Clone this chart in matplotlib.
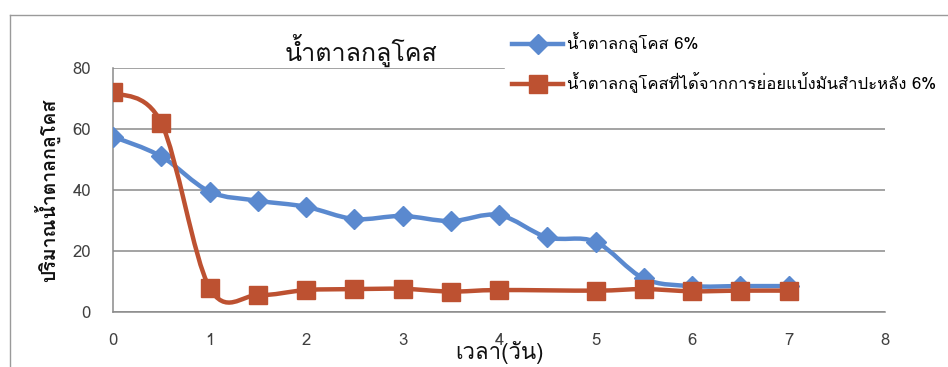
import matplotlib
matplotlib.use('Agg')
import matplotlib.pyplot as plt
from matplotlib import font_manager, ft2font
from matplotlib.path import Path
from matplotlib.patches import PathPatch
from matplotlib.lines import Line2D

# glucose over time (days)
days_glucose = [0, 0.5, 1, 1.5, 2, 2.5, 3, 3.5, 4, 4.5, 5, 5.5, 6, 6.5, 7]
glucose = [57.5, 51, 39.5, 36.5, 34.5, 30.5, 31.5, 29.8, 31.8, 24.5, 23, 11, 8.5, 8.5, 8.5]
days_cassava = [0, 0.5, 1, 1.5, 2, 2.5, 3, 3.5, 4, 5, 5.5, 6, 6.5, 7]
cassava = [72, 62, 8, 5.5, 7.2, 7.5, 7.6, 6.7, 7.2, 7, 7.5, 6.8, 7, 7]

title = 'น้ำตาลกลูโคส'
ylabel = 'ปริมาณน้ำตาลกลูโคส'
xlabel = 'เวลา(วัน)'
names = ['น้ำตาลกลูโคส 6%', 'น้ำตาลกลูโคสที่ได้จากการย่อยแป้งมันสำปะหลัง 6%']
xticks = [0, 1, 2, 3, 4, 5, 6, 7, 8]
yticks = [0, 20, 40, 60, 80]

blue = '#5A89CF'
red = '#BD5131'


def find_thai_font():
    for f in font_manager.fontManager.ttflist:
        try:
            cmap = ft2font.FT2Font(f.fname).get_charmap()
        except Exception:
            continue
        if 0x0E19 in cmap and 0x0E33 in cmap:
            return f.name
    return None


thai = find_thai_font()
fams = ([thai] if thai else []) + ['DejaVu Sans']
plt.rcParams['font.family'] = fams


def smooth_path(xs, ys):
    # bezier segments with catmull-rom style control points
    pts = list(zip(xs, ys))
    n = len(pts)
    verts = [pts[0]]
    codes = [Path.MOVETO]
    for i in range(n - 1):
        p0 = pts[i - 1] if i > 0 else pts[i]
        p1 = pts[i]
        p2 = pts[i + 1]
        p3 = pts[i + 2] if i + 2 < n else pts[i + 1]
        c1 = (p1[0] + (p2[0] - p0[0]) / 6, p1[1] + (p2[1] - p0[1]) / 6)
        c2 = (p2[0] - (p3[0] - p1[0]) / 6, p2[1] - (p3[1] - p1[1]) / 6)
        verts += [c1, c2, p2]
        codes += [Path.CURVE4] * 3
    return Path(verts, codes)


fig = plt.figure(figsize=(9.48, 3.67), dpi=100)
ax = fig.add_axes([113 / 948, 1 - 312 / 367, 772 / 948, 244 / 367])

ax.add_patch(PathPatch(smooth_path(days_glucose, glucose), fill=False,
                       edgecolor=blue, lw=3.2, capstyle='round', joinstyle='round', zorder=3))
ax.plot(days_glucose, glucose, ls='none', marker='D', ms=10, color=blue, zorder=4)
ax.add_patch(PathPatch(smooth_path(days_cassava, cassava), fill=False,
                       edgecolor=red, lw=3.2, capstyle='round', joinstyle='round', zorder=5))
ax.plot(days_cassava, cassava, ls='none', marker='s', ms=12.5, color=red, zorder=6)

ax.set_xlim(0, 8)
ax.set_ylim(0, 80)
ax.set_xticks(xticks)
ax.set_yticks(yticks)
ax.tick_params(length=0, labelsize=12, labelcolor='#404040')
ax.tick_params(axis='y', pad=16)
ax.tick_params(axis='x', pad=15)
ax.yaxis.grid(True, color='#8a8a8a', lw=1.1)
ax.set_axisbelow(True)
for s in ['top', 'right']:
    ax.spines[s].set_visible(False)
for s in ['left', 'bottom']:
    ax.spines[s].set_color('#8a8a8a')
    ax.spines[s].set_linewidth(1.1)

ax.set_xlabel(xlabel, fontsize=16, labelpad=-6, color='#111111')
ax.set_ylabel(ylabel, fontsize=14, fontweight='bold', labelpad=9, color='#111111')
fig.text(361 / 948, 1 - 50 / 367, title, fontsize=18, ha='center', va='center', color='#111111')

handles = [
    Line2D([], [], color=blue, lw=3.2, marker='D', ms=10),
    Line2D([], [], color=red, lw=3.2, marker='s', ms=12.5),
]
leg = ax.legend(handles, names, loc='upper left', bbox_to_anchor=(505 / 948, 1 - 26 / 367),
                bbox_transform=fig.transFigure, frameon=True, fontsize=12,
                handlelength=3.1, handletextpad=0.2, labelspacing=1.15,
                borderpad=0.4, borderaxespad=0)
leg.get_frame().set_facecolor('white')
leg.get_frame().set_edgecolor('white')
leg.get_frame().set_alpha(1)
leg.set_zorder(10)

# chart border
fig.add_artist(Line2D([10 / 948, 1], [1 - 15 / 367, 1 - 15 / 367], transform=fig.transFigure,
                      color='#9a9a9a', lw=1))
fig.add_artist(Line2D([10 / 948, 10 / 948], [1 - 15 / 367, 0], transform=fig.transFigure,
                      color='#9a9a9a', lw=1))

fig.savefig('out.png', dpi=100, facecolor='white')
